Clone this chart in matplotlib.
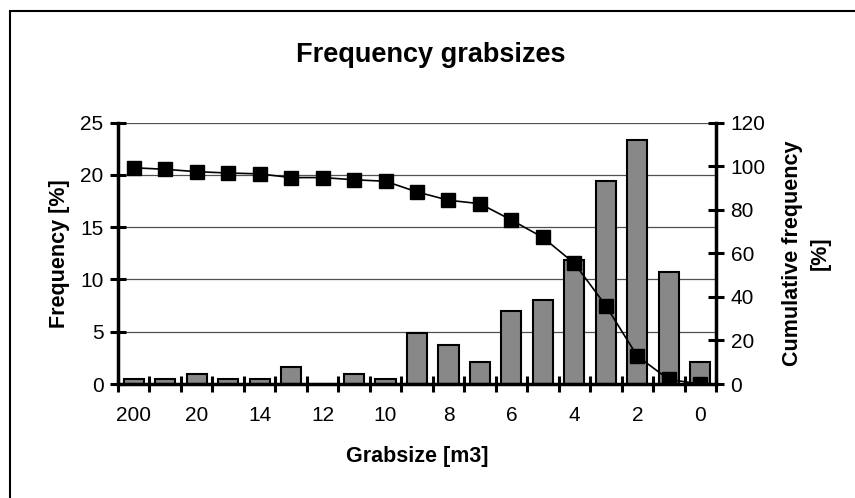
import matplotlib.pyplot as plt
from matplotlib.patches import Rectangle
import numpy as np

plt.rcParams['font.family'] = ['Liberation Sans', 'DejaVu Sans']

# Daten
grabsize = ['200', '25', '20', '16', '14', '13', '12', '11', '10', '9',
            '8', '7', '6', '5', '4', '3', '2', '1', '0']
frequency = [0.5, 0.5, 1.0, 0.5, 0.5, 1.6, 0.0, 1.0, 0.5, 4.9,
             3.7, 2.1, 7.0, 8.0, 11.9, 19.4, 23.3, 10.7, 2.1]
cumulative = [99.3, 98.6, 97.5, 96.9, 96.5, 94.8, 94.8, 93.8, 93.1, 88.2,
              84.4, 82.8, 75.3, 67.3, 55.4, 36.0, 12.8, 2.1, 0.0]

x = np.arange(len(grabsize))

fig = plt.figure(figsize=(8.55, 4.98), dpi=100)
W, H = 855, 498
ax = fig.add_axes([118 / W, (H - 384) / H, (716 - 118) / W, (384 - 122.7) / H])

# Balken
ax.bar(x, frequency, width=0.64, color='#888888', edgecolor='black', linewidth=1.5, zorder=2)
ax.set_xlim(-0.5, len(grabsize) - 0.5)
ax.set_ylim(0, 25)
ax.set_yticks(np.arange(0, 26, 5))
ax.yaxis.grid(True, color='#505050', linewidth=0.9, zorder=0)
ax.set_axisbelow(True)

# x-Achse: Striche zwischen den Kategorien, Beschriftung jede zweite Kategorie
ax.set_xticks(np.arange(-0.5, len(grabsize), 1.0))
ax.set_xticklabels([])
ax.set_xticks(x[::2], minor=True)
ax.set_xticklabels(grabsize[::2], minor=True)
ax.tick_params(axis='x', which='major', direction='inout', length=11, width=2.2)
ax.tick_params(axis='x', which='minor', length=0, pad=16, labelsize=15)
ax.tick_params(axis='y', direction='inout', length=11, width=2.2, labelsize=15, pad=5)

for s in ['top', 'right']:
    ax.spines[s].set_visible(False)
ax.spines['left'].set_linewidth(2.5)
ax.spines['bottom'].set_linewidth(2.5)

ax.set_xlabel('Grabsize [m3]', fontsize=15.5, fontweight='bold', labelpad=15)
ax.set_ylabel('Frequency [%]', fontsize=15.5, fontweight='bold', labelpad=7)

# Summenkurve auf der rechten Achse
ax2 = ax.twinx()
ax2.plot(x, cumulative, color='black', linewidth=1.2, marker='s', markersize=9.5, zorder=3)
ax2.set_ylim(0, 120)
ax2.set_yticks(np.arange(0, 121, 20))
ax2.tick_params(axis='y', direction='inout', length=11, width=2.2, labelsize=15, pad=5)
for s in ['top', 'left', 'bottom']:
    ax2.spines[s].set_visible(False)
ax2.spines['right'].set_linewidth(2.5)
ax2.set_ylabel('Cumulative frequency\n[%]', fontsize=15.5, fontweight='bold', labelpad=12,
               linespacing=1.4)

fig.text(431 / W, 1 - 55 / H, 'Frequency grabsizes', ha='center', va='center',
         fontsize=19.5, fontweight='bold')

# Rahmen um das Diagramm
fig.patches.append(Rectangle((10 / W, -0.1), 1.5, (H - 11) / H + 0.1, transform=fig.transFigure,
                             fill=False, edgecolor='black', linewidth=1.5))

plt.savefig('out.png', dpi=100)
